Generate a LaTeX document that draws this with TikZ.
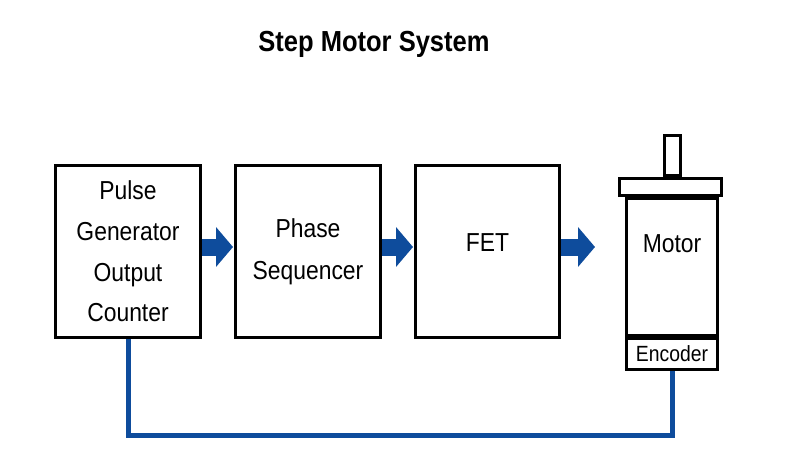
\documentclass[tikz,border=0pt]{standalone}
\usepackage{fontspec}
\setmainfont{Liberation Sans}[FakeStretch=0.88]
\usetikzlibrary{arrows.meta}
\definecolor{fbblue}{RGB}{14,76,156}
\tikzset{
  blk/.style={draw=black, line width=2.8pt, fill=white, inner sep=0pt, align=center},
  lbl/.style={font=\fontsize{26}{40.7}\selectfont},
  flow/.style={draw=fbblue, line width=17pt, -{Triangle[length=17pt,width=39pt]}},
  fback/.style={draw=fbblue, line width=5pt, line join=miter}
}
\begin{document}
\begin{tikzpicture}[x=1pt,y=-1pt]
\useasboundingbox (0,0) rectangle (800,460);
\node[font=\bfseries\fontsize{29}{34}\selectfont, anchor=base] (title) at (374,52) {Step Motor System};

\node[blk, lbl, minimum width=145.2pt, minimum height=172.2pt] (pg) at (128,251.5)
  {Pulse\\Generator\\Output\\Counter};
\node[blk, minimum width=145.2pt, minimum height=172.2pt,
  font=\fontsize{26}{42}\selectfont] (ps) at (308,251.5) {Phase\\Sequencer};
\node[blk, lbl, minimum width=144.2pt, minimum height=172.2pt] (fet) at (487.5,251.5)
  {\raisebox{0pt}[0pt][0pt]{FET}};

\node[blk, minimum width=16.2pt, minimum height=40.2pt] (shaft) at (672.5,155.5) {};
\node[blk, minimum width=102.2pt, minimum height=17.2pt] (cap) at (670.5,187) {};
\node[blk, lbl, minimum width=91.2pt, minimum height=137.2pt] (motor) at (672,267)
  {\raisebox{15pt}[0pt][0pt]{Motor}};
\node[blk, minimum width=91.2pt, minimum height=31.2pt,
  font=\fontsize{22}{26}\selectfont] (enc) at (672,354) {Encoder};

\coordinate (m3) at (595,247);
\coordinate (fb) at (0,435);

\draw[flow] ([yshift=4.5pt]pg.east) -- ([yshift=4.5pt,xshift=-1pt]ps.west);
\draw[flow] ([yshift=4.5pt]ps.east) -- ([yshift=4.5pt,xshift=-1pt]fet.west);
\draw[flow] ([yshift=4.5pt]fet.east) -- (m3);

\draw[fback] (pg.south) -- (pg.south |- fb) -- (enc.south |- fb) -- (enc.south);
\end{tikzpicture}
\end{document}
